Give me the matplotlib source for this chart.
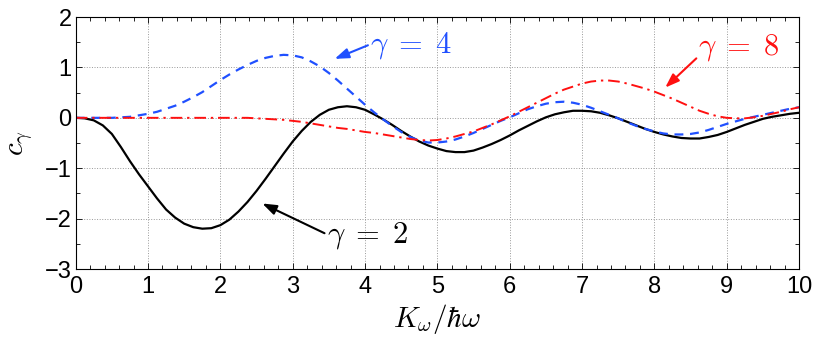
import matplotlib.pyplot as plt
from matplotlib.ticker import MultipleLocator
import numpy as np

plt.rcParams['mathtext.fontset'] = 'cm'
plt.rcParams['font.family'] = ['Liberation Sans', 'DejaVu Sans']

# values, every 0.125 on the x axis
x = np.arange(81) * 0.125

c2 = [0.00, -0.01, -0.05, -0.15, -0.32, -0.58, -0.86, -1.12, -1.36, -1.60,
      -1.82, -1.98, -2.10, -2.17, -2.20, -2.19, -2.13, -2.02, -1.86, -1.67,
      -1.45, -1.21, -0.96, -0.71, -0.47, -0.26, -0.08, 0.06, 0.16, 0.21,
      0.23, 0.21, 0.16, 0.07, -0.03, -0.14, -0.26, -0.37, -0.47, -0.55,
      -0.61, -0.66, -0.68, -0.68, -0.65, -0.59, -0.52, -0.44, -0.35, -0.25,
      -0.16, -0.07, 0.01, 0.07, 0.11, 0.14, 0.14, 0.13, 0.10, 0.05,
      -0.01, -0.08, -0.15, -0.22, -0.28, -0.33, -0.37, -0.40, -0.41, -0.41,
      -0.38, -0.34, -0.28, -0.21, -0.14, -0.08, -0.02, 0.02, 0.05, 0.08,
      0.10]

c4 = [0.00, 0.00, 0.00, 0.00, 0.00, 0.01, 0.02, 0.05, 0.08, 0.12,
      0.18, 0.24, 0.32, 0.41, 0.51, 0.63, 0.75, 0.86, 0.96, 1.05,
      1.13, 1.19, 1.23, 1.25, 1.24, 1.20, 1.12, 1.02, 0.89, 0.74,
      0.58, 0.42, 0.26, 0.11, -0.03, -0.16, -0.28, -0.38, -0.45, -0.49,
      -0.49, -0.47, -0.43, -0.37, -0.30, -0.22, -0.14, -0.06, 0.01, 0.09,
      0.17, 0.23, 0.28, 0.31, 0.32, 0.30, 0.26, 0.20, 0.13, 0.06,
      -0.01, -0.09, -0.16, -0.22, -0.27, -0.31, -0.33, -0.33, -0.32, -0.29,
      -0.24, -0.18, -0.12, -0.07, -0.02, 0.02, 0.06, 0.10, 0.14, 0.18,
      0.21]

c8 = [0.00, 0.00, 0.00, 0.00, 0.00, 0.00, 0.00, 0.00, 0.00, 0.00,
      0.00, 0.00, 0.00, 0.00, 0.00, 0.00, 0.00, 0.00, 0.00, 0.00,
      -0.01, -0.02, -0.03, -0.04, -0.06, -0.08, -0.11, -0.14, -0.17, -0.20,
      -0.22, -0.25, -0.28, -0.30, -0.33, -0.36, -0.39, -0.42, -0.44, -0.45,
      -0.44, -0.41, -0.37, -0.32, -0.27, -0.20, -0.13, -0.05, 0.03, 0.12,
      0.21, 0.30, 0.39, 0.48, 0.56, 0.62, 0.68, 0.72, 0.74, 0.74,
      0.72, 0.68, 0.63, 0.58, 0.52, 0.45, 0.38, 0.30, 0.22, 0.14,
      0.08, 0.03, 0.00, -0.01, -0.01, 0.01, 0.04, 0.08, 0.12, 0.17,
      0.21]

labels = [r'$\gamma\;=\;2$', r'$\gamma\;=\;4$', r'$\gamma\;=\;8$']
blue = '#2050ff'
red = '#ff1010'

fig = plt.figure(figsize=(8.3, 3.48), dpi=100)
ax = fig.add_axes([0.0912, 0.227, 0.8715, 0.724])

ax.plot(x, c2, color='black', lw=1.6)
ax.plot(x, c4, color=blue, lw=1.6, ls=(0, (4, 3)))
ax.plot(x, c8, color=red, lw=1.4, ls=(0, (6, 2.5, 1.2, 2.5)))

ax.set_xlim(0, 10)
ax.set_ylim(-3, 2)
ax.xaxis.set_major_locator(MultipleLocator(1))
ax.xaxis.set_minor_locator(MultipleLocator(0.2))
ax.yaxis.set_major_locator(MultipleLocator(1))
ax.yaxis.set_minor_locator(MultipleLocator(0.5))
ax.tick_params(which='both', direction='in', top=True, right=True,
               labelsize=17, width=0.6)
ax.tick_params(which='major', length=4)
ax.tick_params(which='minor', length=3)
ax.tick_params(axis='x', pad=5)
ax.tick_params(axis='y', pad=3)
ax.grid(True, which='major', ls=':', color='#999999', lw=0.7)
for s in ax.spines.values():
    s.set_linewidth(0.8)

ax.set_xlabel(r'$K_\omega/\hbar\omega$', fontsize=21, labelpad=3)
ax.set_ylabel(r'$c_\gamma$', fontsize=21, labelpad=6)

arrow = '-|>,head_length=0.7,head_width=0.25'
# gamma = 4
ax.annotate('', xy=(3.58, 1.17), xytext=(4.04, 1.44),
            arrowprops=dict(arrowstyle=arrow, color=blue, lw=1.5,
                            shrinkA=0, shrinkB=0, mutation_scale=12))
ax.text(4.07, 1.44, labels[1], color=blue, fontsize=22, ha='left', va='center')
# gamma = 8
ax.annotate('', xy=(8.15, 0.60), xytext=(8.58, 1.18),
            arrowprops=dict(arrowstyle=arrow, color=red, lw=1.5,
                            shrinkA=0, shrinkB=0, mutation_scale=12))
ax.text(8.6, 1.39, labels[2], color=red, fontsize=22, ha='left', va='center')
# gamma = 2
ax.annotate('', xy=(2.58, -1.70), xytext=(3.44, -2.29),
            arrowprops=dict(arrowstyle=arrow, color='black', lw=1.5,
                            shrinkA=0, shrinkB=0, mutation_scale=12))
ax.text(3.47, -2.33, labels[0], color='black', fontsize=22, ha='left', va='center')

fig.savefig('out.png', dpi=100)
